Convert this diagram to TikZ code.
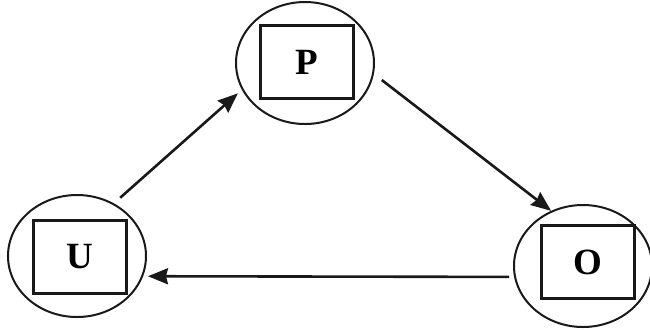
\documentclass[tikz,border=0pt]{standalone}
\usepackage{fontspec}
\setmainfont{Liberation Serif}
\usepackage{tikz}
\usetikzlibrary{shapes.geometric, arrows.meta}

\begin{document}
\begin{tikzpicture}[
    x=0.5pt, y=-0.5pt,
    cr/.style={ellipse, draw=black!90, line width=1pt,
        minimum width=69pt, minimum height=61pt},
    sq/.style={rectangle, draw=black!90, line width=1.2pt,
        minimum width=46.5pt, minimum height=36.5pt,
        font=\fontsize{18.5}{22}\selectfont\bfseries},
    ar/.style={-{Stealth[length=10pt, width=8pt, inset=1pt]},
        line width=1.3pt, draw=black!90}]
\useasboundingbox (0,0) rectangle (650,329);
\node[cr] (U) at (77,256) {};
\node[cr] (P) at (305,63) {};
\node[cr] (O) at (583,266) {};
\node[sq] (Ub) at (80,257) {U};
\node[sq] (Pb) at (307,62) {P};
\node[sq] (Ob) at (588,262) {O};
\draw[ar, shorten <=4.2pt, shorten >=2.7pt] (U.55) -- (P.203);
\draw[ar, shorten <=5pt] (P.-9) -- (O.120);
\draw[ar, shorten <=2.5pt, shorten >=2.4pt] (O.189) -- (U.-17);
\end{tikzpicture}
\end{document}
